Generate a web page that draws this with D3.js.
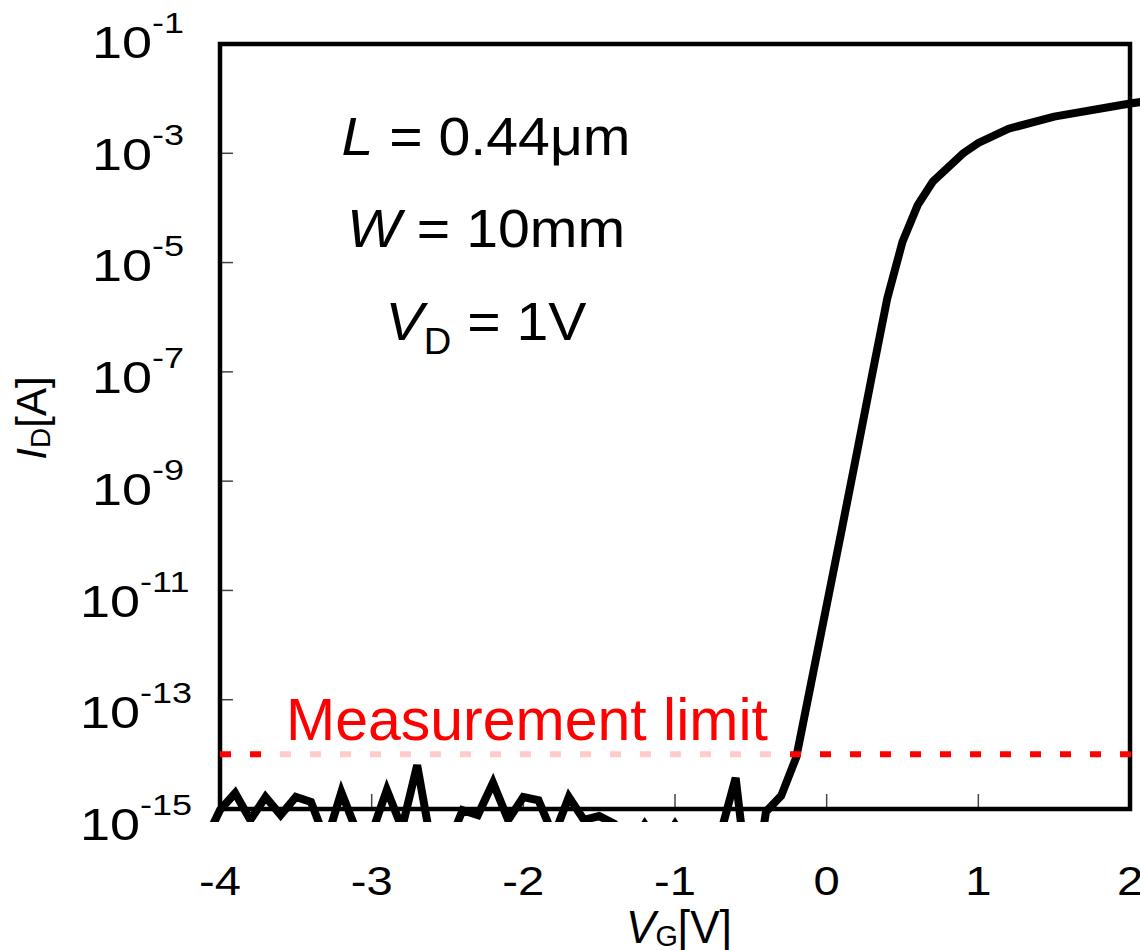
<!DOCTYPE html>
<html>
<head>
<meta charset="utf-8">
<script src="https://cdn.jsdelivr.net/npm/d3@7"></script>
<style>
  html, body { margin: 0; padding: 0; background: #fff; }
  svg { display: block; font-family: "Liberation Sans", Arial, sans-serif; }
</style>
</head>
<body>
<svg id="chart" width="1140" height="950"></svg>
<script>
// ---- data ----
const gateVoltage = [-4.1, -4.0, -3.9, -3.8, -3.7, -3.6, -3.5, -3.4, -3.3, -3.2, -3.1, -3.0,
  -2.9, -2.8, -2.7, -2.6, -2.5, -2.4, -2.3, -2.2, -2.1, -2.0, -1.9, -1.8, -1.7, -1.6,
  -1.5, -1.4, -1.3, -1.2, -1.1, -1.0, -0.9, -0.8, -0.7, -0.6, -0.5, -0.4, -0.3, -0.2,
  -0.1, 0.0, 0.1, 0.2, 0.3, 0.4, 0.5, 0.6, 0.7, 0.9, 1.0, 1.2, 1.5, 2.0, 2.1];
const log10Drain = [-15.6, -15.02, -14.71, -15.2, -14.78, -15.11, -14.78, -14.87, -15.6, -14.69, -15.4, -15.45,
  -14.65, -15.35, -14.2, -15.75, -15.7, -15.02, -15.11, -14.52, -15.2, -14.78, -14.84, -15.5, -14.78, -15.2,
  -15.13, -15.27, -15.7, -15.28, -15.7, -15.28, -15.7, -15.7, -15.45, -14.43, -16.8, -15.05, -14.76, -14.05,
  -12.66, -11.27, -9.88, -8.47, -7.05, -5.65, -4.62, -3.95, -3.52, -3.0, -2.81, -2.55, -2.33, -2.09, -2.05];
const xTicks = [-4, -3, -2, -1, 0, 1, 2];
const yTickExponents = [-1, -3, -5, -7, -9, -11, -13, -15];
const measurementLimit = 1e-14;
const annotations = [
  {main: "L", sub: "", rest: " = 0.44\u03bcm"},
  {main: "W", sub: "", rest: " = 10mm"},
  {main: "V", sub: "D", rest: " = 1V"}
];
const limitLabel = "Measurement limit";

// ---- layout ----
const svg = d3.select("#chart");
const x = d3.scaleLinear().domain([-4, 2]).range([220, 1130]);
const y = d3.scaleLog().domain([1e-15, 1e-1]).range([809, 44]);
const yLabel = d3.scaleLog().domain([1e-15, 1e-1]).range([840, 58]);

// ticks (inward)
svg.append("g").selectAll("line").data(xTicks).join("line")
  .attr("x1", d => x(d)).attr("x2", d => x(d))
  .attr("y1", y(1e-15)).attr("y2", y(1e-15) - 15)
  .attr("stroke", "#444").attr("stroke-width", 1.5);
svg.append("g").selectAll("line").data(yTickExponents).join("line")
  .attr("x1", x(-4)).attr("x2", x(-4) + 13)
  .attr("y1", d => y(Math.pow(10, d))).attr("y2", d => y(Math.pow(10, d)))
  .attr("stroke", "#444").attr("stroke-width", 1.5);

// frame
svg.append("rect")
  .attr("x", x(-4)).attr("y", y(1e-1))
  .attr("width", x(2) - x(-4)).attr("height", y(1e-15) - y(1e-1))
  .attr("fill", "none").attr("stroke", "#000").attr("stroke-width", 4.5);

// x tick labels
svg.append("g").selectAll("g").data(xTicks).join("g")
  .attr("transform", d => `translate(${x(d)},895) scale(1.18,1)`)
  .append("text").attr("text-anchor", "middle")
  .attr("font-size", 40).attr("fill", "#000")
  .text(d => d);

// y tick labels: 10^n
const yl = svg.append("g").selectAll("g").data(yTickExponents).join("g")
  .attr("transform", d => `translate(${String(d).length > 2 ? 80 : 92},${yLabel(Math.pow(10, d))}) scale(1.2,1)`)
  .append("text").attr("fill", "#000");
yl.append("tspan").attr("font-size", 45).text("10");
yl.append("tspan").attr("font-size", 30).attr("dy", -25).text(d => d);

// axis titles
const xt = svg.append("g").attr("transform", "translate(626,943) scale(0.96,1)")
  .append("text").attr("font-size", 46).attr("fill", "#000");
xt.append("tspan").attr("font-style", "italic").text("V");
xt.append("tspan").attr("font-size", 30).attr("dy", 3).text("G");
xt.append("tspan").attr("dy", -3).text("[V]");

const ytg = svg.append("g").attr("transform", "translate(46,418) rotate(-90)")
  .append("text").attr("text-anchor", "middle").attr("font-size", 42).attr("fill", "#000");
ytg.append("tspan").attr("font-style", "italic").text("I");
ytg.append("tspan").attr("font-size", 28).attr("dy", 4).text("D");
ytg.append("tspan").attr("dy", -4).text("[A]");

// curve
svg.append("defs").append("clipPath").attr("id", "clip")
  .append("rect").attr("x", 0).attr("y", 0).attr("width", 1140).attr("height", 822);
const pts = gateVoltage.map((v, i) => [v, Math.pow(10, log10Drain[i])]);
svg.append("path")
  .attr("clip-path", "url(#clip)")
  .attr("d", d3.line().x(d => x(d[0])).y(d => y(d[1]))(pts))
  .attr("fill", "none").attr("stroke", "#000").attr("stroke-width", 8)
  .attr("stroke-linejoin", "miter").attr("stroke-miterlimit", 4);

// measurement limit line
svg.append("line")
  .attr("x1", x(-4)).attr("x2", 1140)
  .attr("y1", y(measurementLimit)).attr("y2", y(measurementLimit))
  .attr("stroke", "#ff0000").attr("stroke-width", 6)
  .attr("stroke-dasharray", "11,19");

// label background + label
svg.append("rect").attr("x", 270).attr("y", 686).attr("width", 515).attr("height", 77)
  .attr("fill", "#fff").attr("fill-opacity", 0.8);
svg.append("text").attr("x", 286).attr("y", 740)
  .attr("font-size", 59).attr("fill", "#ff0000").text(limitLabel);

// annotations
const baselines = [155, 247, 340];
annotations.forEach((a, i) => {
  const t = svg.append("g").attr("transform", `translate(486,${baselines[i]}) scale(1.06,1)`)
    .append("text").attr("text-anchor", "middle").attr("font-size", 54).attr("fill", "#000");
  t.append("tspan").attr("font-style", "italic").text(a.main);
  if (a.sub) {
    t.append("tspan").attr("font-size", 36).attr("dy", 14).text(a.sub);
    t.append("tspan").attr("dy", -14).text(a.rest);
  } else {
    t.append("tspan").text(a.rest);
  }
});
</script>
</body>
</html>
